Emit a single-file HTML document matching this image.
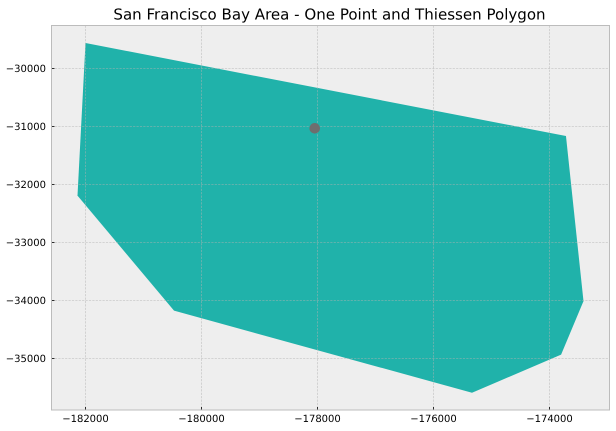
<!DOCTYPE html>
<html>
<head>
<meta charset="utf-8">
<style>
html,body{margin:0;padding:0;background:#fff;width:616px;height:431px;overflow:hidden}
svg{display:block}
text{font-family:"DejaVu Sans","Liberation Sans",sans-serif;fill:#000;text-rendering:geometricPrecision}
</style>
</head>
<body>
<svg id="chart" width="616" height="431" viewBox="0 0 616 431" xmlns="http://www.w3.org/2000/svg"></svg>
<script>
var titleText = "San Francisco Bay Area - One Point and Thiessen Polygon";
var xTicks = [-182000, -180000, -178000, -176000, -174000];
var yTicks = [-30000, -31000, -32000, -33000, -34000, -35000];
var polygonX = [-182000, -173716, -173414, -173800, -175336, -180474, -182138];
var polygonY = [-29564, -31167, -34012, -34934, -35590, -34176, -32193];
var pointX = [-178048];
var pointY = [-31034];

var NS = "http://www.w3.org/2000/svg";
var svg = document.getElementById("chart");
var plotLeft = 51.5, plotRight = 609.5, plotTop = 25.5, plotBottom = 410;
function sx(v){ return 85.5 + (v + 182000) * 0.058; }
function sy(v){ return 68.3 - (v + 30000) * 0.05804; }
function make(tag, attrs, parent){
  var el = document.createElementNS(NS, tag);
  for (var k in attrs) el.setAttribute(k, attrs[k]);
  (parent || svg).appendChild(el);
  return el;
}
function fmt(v){ return (v < 0 ? "\u2212" : "") + Math.abs(v); }

var bg = make("rect", {x:plotLeft, y:plotTop, width:plotRight-plotLeft, height:plotBottom-plotTop, fill:"#eeeeee"});



var pts = polygonX.map(function(x, i){ return sx(x).toFixed(2) + "," + sy(polygonY[i]).toFixed(2); }).join(" ");
var poly = make("polygon", {points:pts, fill:"#20b2aa"});



xTicks.forEach(function(v){
  var x = Math.floor(sx(v)) + 0.5;
  var g = make("line", {x1:x, x2:x, y1:plotTop, y2:plotBottom, stroke:"#b2b2b2", "stroke-opacity":0.6, "stroke-width":0.8, "stroke-dasharray":"2.2 1.2"});
  
  
  var t = make("line", {x1:x, x2:x, y1:plotBottom, y2:plotBottom-3, stroke:"#000", "stroke-width":0.8});
  
  
  var l = make("text", {x:x, y:plotBottom+12, "font-size":10, "text-anchor":"middle"});
  l.textContent = fmt(v);
  
  
});

yTicks.forEach(function(v){
  var y = Math.floor(sy(v)) + 0.5;
  var g = make("line", {x1:plotLeft, x2:plotRight, y1:y, y2:y, stroke:"#b2b2b2", "stroke-opacity":0.6, "stroke-width":0.8, "stroke-dasharray":"2.2 1.2"});
  
  
  var t = make("line", {x1:plotLeft, x2:plotLeft+3, y1:y, y2:y, stroke:"#000", "stroke-width":0.8});
  
  
  var l = make("text", {x:plotLeft-5.5, y:y+3.5, "font-size":10, "text-anchor":"end"});
  l.textContent = fmt(v);
  
  
});

pointX.forEach(function(x, i){
  var c = make("circle", {cx:sx(x), cy:sy(pointY[i]), r:5.3, fill:"#6e6e6e"});
  
  
});

var frame = make("rect", {x:plotLeft, y:plotTop, width:plotRight-plotLeft, height:plotBottom-plotTop, fill:"none", stroke:"#bcbcbc", "stroke-width":1});



var title = make("text", {x:329.5, y:19.3, "font-size":15.05, "text-anchor":"middle"});
title.textContent = titleText;


</script>
</body>
</html>
